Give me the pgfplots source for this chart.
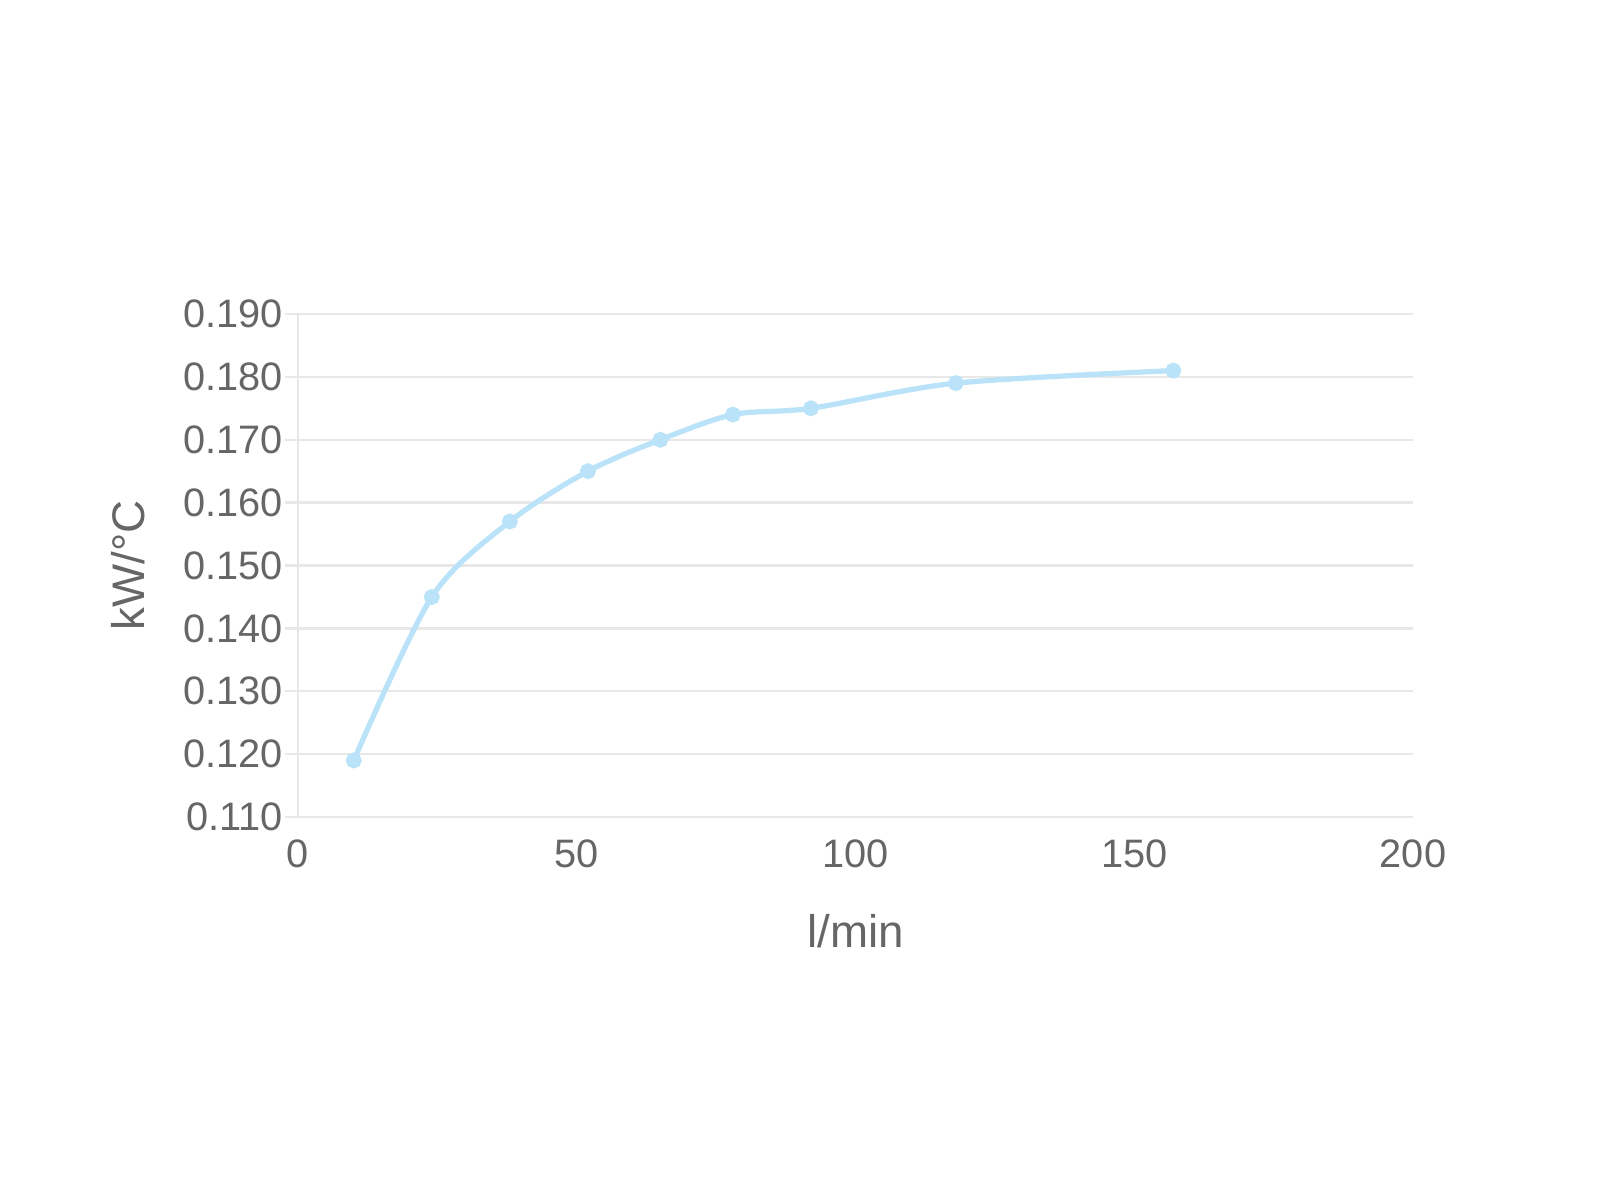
\documentclass[border=0pt]{standalone}
\usepackage{fontspec}
\setmainfont{Liberation Sans}
\usepackage{pgfplots}
\pgfplotsset{compat=1.18}
\definecolor{linecol}{RGB}{186,226,248}
\definecolor{gridcol}{RGB}{232,232,232}
\definecolor{labcol}{RGB}{102,102,102}
\begin{document}
\begin{tikzpicture}
\path[use as bounding box] (0,0) rectangle (16,12);
\begin{axis}[
  at={(2.98cm,3.83cm)}, anchor=south west,
  scale only axis,
  width=11.15cm, height=5.03cm,
  xmin=0, xmax=200, ymin=0.11, ymax=0.19,
  xtick={0,50,100,150,200},
  ytick={0.11,0.12,0.13,0.14,0.15,0.16,0.17,0.18,0.19},
  axis x line*=bottom, axis y line*=left,
  axis line style={gridcol, line width=0.7pt},
  ymajorgrids, grid style={gridcol, line width=0.7pt},
  xtick style={draw=none},
  ytick style={gridcol, line width=0.7pt},
  tick align=outside, major tick length=0.13cm,
  /pgf/number format/assume math mode=true,
  y tick label style={/pgf/number format/.cd, fixed, fixed zerofill, precision=3, /tikz/.cd},
  ticklabel style={font=\fontsize{11.3}{13}\selectfont, text=labcol},
  xticklabel style={yshift=0.03cm},
  yticklabel style={xshift=0.1cm},
  xlabel={l/min}, ylabel={kW/°C},
  label style={font=\fontsize{13}{15}\selectfont, text=labcol},
  x label style={at={(axis description cs:0.5,0)}, anchor=center, yshift=-1.14cm},
  y label style={at={(axis description cs:0,0.5)}, anchor=center, yshift=1.7cm},
]
\addplot[linecol, line width=1.5pt, smooth, tension=0.5, mark=*, mark size=1.5pt,
  mark options={fill=linecol, draw=linecol}] coordinates {
  (10,0.119) (24,0.145) (38,0.157) (52,0.165) (65,0.170)
  (78,0.174) (92,0.175) (118,0.179) (157,0.181)
};
\end{axis}
\end{tikzpicture}
\end{document}
